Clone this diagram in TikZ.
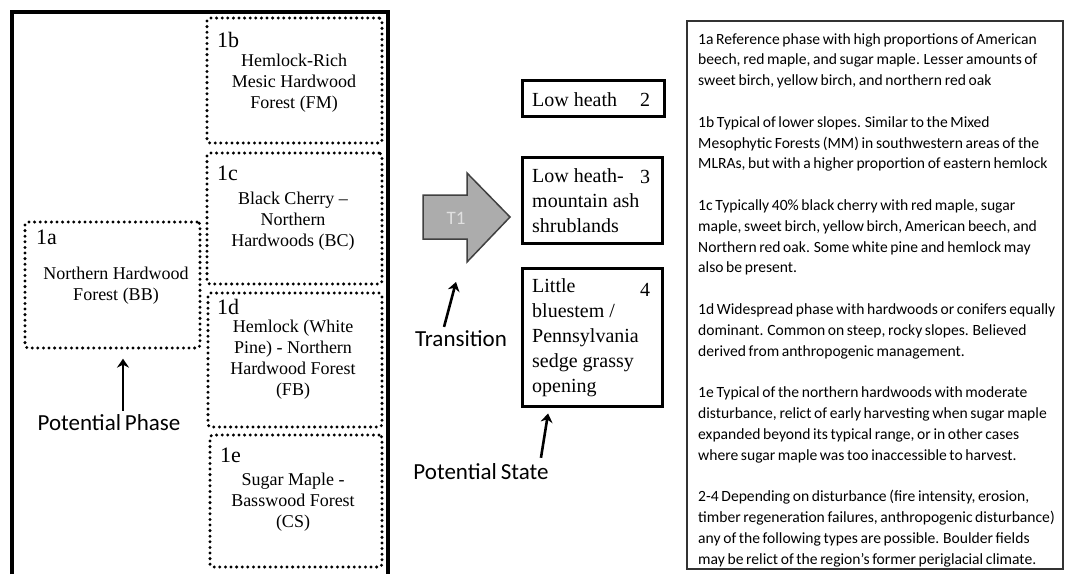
\documentclass[tikz,border=0pt]{standalone}
\usepackage{fontspec}
\setmainfont{Liberation Serif}
\newfontfamily\calfont{Carlito}
\newfontfamily\calnarrow[WordSpace=0.75]{Carlito}
\usetikzlibrary{arrows.meta}
\begin{document}
\begin{tikzpicture}[x=1pt,y=-1pt,
  phasebox/.style={draw, line width=3.3pt, dash pattern=on 0pt off 5.6pt, line cap=round, rounded corners=3pt, inner sep=0pt},
  statebox/.style={draw, line width=3pt, inner sep=0pt},
  plabel/.style={anchor=west, inner sep=0pt, font=\fontsize{22}{24}\selectfont},
  ptext/.style={align=center, inner sep=0pt, font=\fontsize{18}{21}\selectfont},
  stext/.style={align=left, anchor=west, inner sep=0pt, font=\fontsize{20}{25}\selectfont},
  snum/.style={inner sep=0pt, font=\fontsize{20}{24}\selectfont},
  callout/.style={inner sep=0pt, font=\calfont\fontsize{23}{26}\selectfont},
  pointer/.style={line width=2.6pt, -{Stealth[length=9pt,width=12pt]}},
]
\useasboundingbox (0,0) rectangle (1067,574);
\fill[white] (0,0) rectangle (1067,574);

% big frame of phases
\draw[line width=3.5pt] (12,574) -- (12,12) -- (388,12) -- (388,574);

% phase boxes
\node[phasebox, minimum width=175pt, minimum height=126pt] (p1a) at (112.5,285) {};
\node[plabel] (l1a) at (36,237) {1a};
\node[ptext] (t1a) at (116,286) {Northern Hardwood\\Forest (BB)};

\node[phasebox, minimum width=175pt, minimum height=125pt] (p1b) at (294.5,80.5) {};
\node[plabel] (l1b) at (217,40) {1b};
\node[ptext] (t1b) at (294,83) {Hemlock-Rich\\Mesic Hardwood\\Forest (FM)};

\node[phasebox, minimum width=175pt, minimum height=131pt] (p1c) at (294.5,218.5) {};
\node[plabel] (l1c) at (217,173) {1c};
\node[ptext] (t1c) at (293,221) {Black Cherry --\\Northern\\Hardwoods (BC)};

\node[phasebox, minimum width=174pt, minimum height=134pt] (p1d) at (295,360) {};
\node[plabel] (l1d) at (217,307) {1d};
\node[ptext] (t1d) at (293,360) {Hemlock (White\\Pine) - Northern\\Hardwood Forest\\(FB)};

\node[phasebox, minimum width=172pt, minimum height=132pt] (p1e) at (296,501) {};
\node[plabel] (l1e) at (220,455) {1e};
\node[ptext] (t1e) at (293,502) {Sugar Maple -\\Basswood Forest\\(CS)};

% transition arrow T1
\draw[fill=gray!65, draw=black!75, line width=1.5pt, line join=miter]
  (423,195) -- (467,195) -- (467,173) -- (510,217) -- (467,262) -- (467,239) -- (423,239) -- cycle;
\node[inner sep=0pt, font=\calfont\fontsize{19}{22}\selectfont, text=black!12] (t1) at (456,218) {T1};
\coordinate (t1foot) at (456,282);

% states
\node[statebox, minimum width=142pt, minimum height=36pt] (s2) at (593,98) {};
\node[stext] (s2t) at (532,100) {Low heath};
\node[snum] (s2n) at (645,100) {2};

\node[statebox, minimum width=140pt, minimum height=86pt] (s3) at (592,200) {};
\node[stext] (s3t) at (532,201) {Low heath-\\mountain ash\\shrublands};
\node[snum] (s3n) at (645,177) {3};

\node[statebox, minimum width=140pt, minimum height=138pt] (s4) at (592,337) {};
\node[stext] (s4t) at (532,338) {Little\\bluestem /\\Pennsylvania\\sedge grassy\\opening};
\node[snum] (s4n) at (645,290) {4};

% callouts
\node[callout] (cpp) at (109,423) {Potential Phase};
\node[callout] (ctr) at (461,339) {Transition};
\node[callout] (cps) at (481,472) {Potential State};

\draw[pointer, shorten <=4pt, shorten >=9pt] ([xshift=14pt]cpp.north) -- ([xshift=10.5pt]p1a.south);
\draw[pointer, shorten <=4pt] ([xshift=-18pt]ctr.north) -- (t1foot);
\draw[pointer, shorten <=6pt, shorten >=6pt] ([xshift=59pt]cps.north) -- ([xshift=-43pt]s4.south);

% description box
\node[draw=black!80, line width=1.2pt, minimum width=376pt, minimum height=548pt, inner sep=0pt] (desc) at (875,295) {};
\node[anchor=north west, align=left, inner sep=0pt, font=\calnarrow\fontsize{15.6}{20.8}\selectfont] (desctext) at (698,33) {%
1a Reference phase with high proportions of American\\
beech, red maple, and sugar maple. Lesser amounts of\\
sweet birch, yellow birch, and northern red oak\\[20.8pt]
1b Typical of lower slopes. Similar to the Mixed\\
Mesophytic Forests (MM) in southwestern areas of the\\
MLRAs, but with a higher proportion of eastern hemlock\\[20.8pt]
1c Typically 40\% black cherry with red maple, sugar\\
maple, sweet birch, yellow birch, American beech, and\\
Northern red oak. Some white pine and hemlock may\\
also be present.\\[20.8pt]
1d Widespread phase with hardwoods or conifers equally\\
dominant. Common on steep, rocky slopes. Believed\\
derived from anthropogenic management.\\[20.8pt]
1e Typical of the northern hardwoods with moderate\\
disturbance, relict of early harvesting when sugar maple\\
expanded beyond its typical range, or in other cases\\
where sugar maple was too inaccessible to harvest.\\[20.8pt]
2-4 Depending on disturbance (fire intensity, erosion,\\
timber regeneration failures, anthropogenic disturbance)\\
any of the following types are possible. Boulder fields\\
may be relict of the region’s former periglacial climate.};
\end{tikzpicture}
\end{document}
